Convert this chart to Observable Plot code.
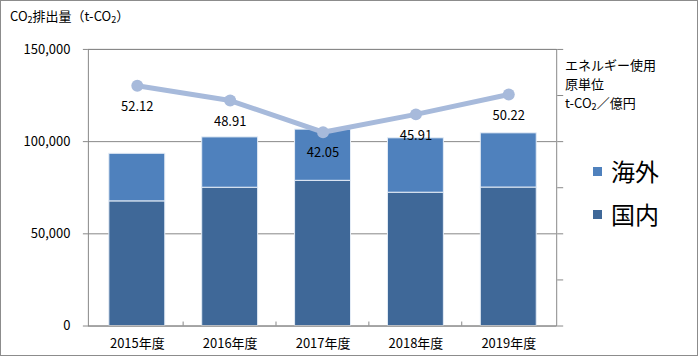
<!DOCTYPE html>
<html>
<head>
<meta charset="utf-8">
<script src="https://cdn.jsdelivr.net/npm/d3@7"></script>
<script src="https://cdn.jsdelivr.net/npm/@observablehq/plot@0.6"></script>
<style>
  html, body { margin: 0; padding: 0; background: #fff; }
  #wrap { position: relative; width: 698px; height: 356px; box-sizing: border-box; border: 1px solid #8c8c8c; font-family: "Noto Sans CJK JP", sans-serif; color: #000; overflow: hidden; }
  #chart { position: absolute; left: -1px; top: -1px; }
  .title { position: absolute; left: 9px; top: 6px; font-size: 13px; line-height: 18px; }
  .rtitle { position: absolute; left: 564px; top: 54px; font-size: 13px; line-height: 19px; }
  sub { font-size: 0.7em; vertical-align: -0.25em; line-height: 0; }
  .leg { position: absolute; left: 592px; display: flex; align-items: center; font-size: 24px; line-height: 28px; }
  .leg i { display: inline-block; width: 9px; height: 9px; margin-right: 9px; }
</style>
</head>
<body>
<div id="wrap">
  <div id="chart"></div>
  <div class="title">CO<sub>2</sub>排出量（t-CO<sub>2</sub>）</div>
  <div class="rtitle">エネルギー使用<br>原単位<br>t-CO<sub>2</sub>／億円</div>
  <div class="leg" style="top:156px"><i style="background:#4f81bd"></i>海外</div>
  <div class="leg" style="top:199px"><i style="background:#3f6898"></i>国内</div>
</div>
<script>
const years = ["2015年度", "2016年度", "2017年度", "2018年度", "2019年度"];
const domestic = [67600, 75000, 78750, 72300, 75100];
const overseas = [25800, 27300, 27750, 29500, 29400];
const intensity = [52.12, 48.91, 42.05, 45.91, 50.22];
const leftTicks = [0, 50000, 100000, 150000];
const rightTicks = [0, 10, 20, 30, 40, 50, 60];
const leftMax = 150000;
const rightMax = 60;
const seriesNames = ["国内", "海外"];
const seriesColors = ["#3f6898", "#4f81bd"];

const barRows = [];
years.forEach((y, i) => barRows.push({year: y, series: "国内", value: domestic[i]}));
years.forEach((y, i) => barRows.push({year: y, series: "海外", value: overseas[i]}));
const lineRows = years.map((y, i) => ({year: y, rate: intensity[i]}));
const toLeft = r => r * leftMax / rightMax;

const plot = Plot.plot({
  width: 698,
  height: 356,
  marginLeft: 88,
  marginRight: 141,
  marginTop: 49,
  marginBottom: 30,
  style: {fontFamily: "'Noto Sans CJK JP', sans-serif", fontSize: "13px", color: "#000", background: "transparent"},
  x: {type: "band", domain: years, paddingInner: 0.4, paddingOuter: 0.2, label: null},
  y: {domain: [0, leftMax], label: null},
  color: {domain: seriesNames, range: seriesColors},
  marks: [
    Plot.gridY(leftTicks, {stroke: "#888", strokeOpacity: 1}),
    Plot.barY(barRows, Plot.stackY({x: "year", y: "value", fill: "series", stroke: "#e4ecf6", strokeWidth: 1})),
    Plot.frame({stroke: "#888"}),
    Plot.axisY({ticks: leftTicks, tickFormat: d3.format(","), tickSize: 5, tickPadding: 13, stroke: "#888", label: null}),
    Plot.axisY({anchor: "right", ticks: rightTicks.map(toLeft), tickFormat: () => "", tickSize: 6, stroke: "#888", label: null}),
    Plot.axisX({tickSize: 0, tickPadding: 13, label: null}),
    Plot.line(lineRows, {x: "year", y: d => toLeft(d.rate), stroke: "#a7badb", strokeWidth: 5}),
    Plot.dot(lineRows, {x: "year", y: d => toLeft(d.rate), r: 6, fill: "#a7badb"}),
    Plot.text(lineRows, {x: "year", y: d => toLeft(d.rate), text: d => d.rate.toFixed(2), dy: 21, fill: "#000"})
  ]
});

// small inward ticks at category boundaries
const xs = plot.scale("x");
const ys = plot.scale("y");
const y0 = ys.apply(0);
const svg = d3.select(plot);
const g = svg.append("g").attr("stroke", "#888");
years.slice(1).forEach(y => {
  const bx = xs.apply(y) - xs.step * xs.paddingInner / 2;
  g.append("line").attr("x1", bx).attr("x2", bx).attr("y1", y0).attr("y2", y0 - 4);
});

document.getElementById("chart").appendChild(plot);
</script>
</body>
</html>
